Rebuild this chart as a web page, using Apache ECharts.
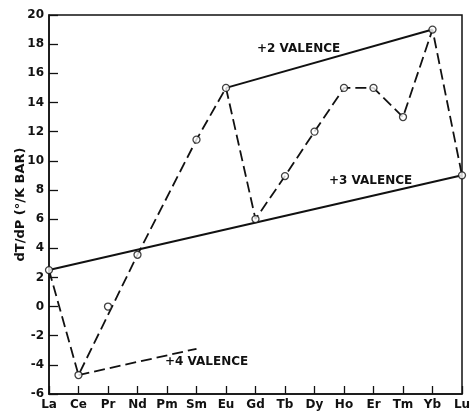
<!DOCTYPE html>
<html>
<head>
<meta charset="utf-8">
<script src="https://cdn.jsdelivr.net/npm/echarts@6/dist/echarts.min.js"></script>
<style>html,body{margin:0;padding:0;background:#fff}#c{width:472px;height:413px}</style>
</head>
<body>
<div id="c"></div>
<script>
// ---- data ----
var categories = ['La','Ce','Pr','Nd','Pm','Sm','Eu','Gd','Tb','Dy','Ho','Er','Tm','Yb','Lu'];
var measured   = [2.5, -4.7, 0, 3.55, null, 11.45, 15, 6, 8.95, 12, 15, 15, 13, 19, 9];
var trendCats  = ['La','Ce','Nd','Sm','Eu','Gd','Tb','Dy','Ho','Er','Tm','Yb','Lu'];
var trendVals  = [2.5, -4.7, 3.55, 11.45, 15, 6, 8.95, 12, 15, 15, 13, 19, 9];
var val3Cats = ['La','Lu'];  var val3Vals = [2.5, 9];
var val2Cats = ['Eu','Yb'];  var val2Vals = [15, 19];
var val4Cats = ['Ce','Sm'];  var val4Vals = [-4.7, -2.9];
var yTicks = {min: -6, max: 20, interval: 2};

function pairs(c, v){ return c.map(function(k,i){ return [k, v[i]]; }); }
var pts = categories.map(function(k,i){ return measured[i]==null ? null : [k, measured[i]]; }).filter(Boolean);

var font = 'DejaVu Sans';
var chart = echarts.init(document.getElementById('c'), null, {renderer:'canvas'});
chart.setOption({
  animation: false,
  backgroundColor: '#fff',
  grid: {left: 49, top: 15, right: 10, bottom: 19, containLabel: false, outerBoundsMode: 'none',
         show: true, borderColor: '#111', borderWidth: 1.5, backgroundColor: 'transparent'},
  xAxis: {
    type: 'category', data: categories, boundaryGap: false,
    axisLine: {onZero: false, lineStyle: {color: '#111', width: 1.5}},
    axisTick: {inside: true, length: 8, lineStyle: {color: '#111', width: 1.3}},
    axisLabel: {color: '#111', fontFamily: font, fontSize: 12, fontWeight: 'bold', margin: 5, interval: 0},
    splitLine: {show: false}
  },
  yAxis: {
    type: 'value', min: yTicks.min, max: yTicks.max, interval: yTicks.interval,
    name: 'dT/dP (°/K BAR)', nameLocation: 'middle', nameGap: 22, nameRotate: 90, nameMoveOverlap: false,
    nameTextStyle: {color: '#111', fontFamily: font, fontSize: 13, fontWeight: 'bold'},
    axisLine: {show: true, onZero: false, lineStyle: {color: '#111', width: 1.5}},
    axisTick: {show: true, inside: true, length: 9, lineStyle: {color: '#111', width: 1.3}},
    axisLabel: {color: '#111', fontFamily: font, fontSize: 12, fontWeight: 'bold', margin: 5},
    splitLine: {show: false}
  },
  series: [
    {type: 'line', data: pairs(trendCats, trendVals), symbol: 'none', z: 2,
     lineStyle: {color: '#111', width: 1.8, type: [11, 5]}},
    {type: 'line', data: pairs(val3Cats, val3Vals), symbol: 'none', z: 2,
     lineStyle: {color: '#111', width: 2}},
    {type: 'line', data: pairs(val2Cats, val2Vals), symbol: 'none', z: 2,
     lineStyle: {color: '#111', width: 2}},
    {type: 'line', data: pairs(val4Cats, val4Vals), symbol: 'none', z: 2,
     lineStyle: {color: '#111', width: 1.8, type: [11, 5]}},
    {type: 'scatter', data: pts, symbol: 'circle', symbolSize: 7, z: 5,
     itemStyle: {color: '#fff', borderColor: '#111', borderWidth: 1.3}}
  ],
  graphic: [
    {type: 'text', left: 257, top: 43, style: {text: '+2 VALENCE', fill: '#111', font: 'bold 12px "DejaVu Sans"'}},
    {type: 'text', left: 329, top: 175, style: {text: '+3 VALENCE', fill: '#111', font: 'bold 12px "DejaVu Sans"'}},
    {type: 'text', left: 165, top: 356, style: {text: '+4 VALENCE', fill: '#111', font: 'bold 12px "DejaVu Sans"'}}
  ]
});
</script>
</body>
</html>
